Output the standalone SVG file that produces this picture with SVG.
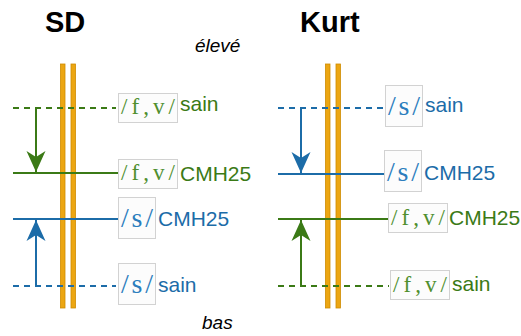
<svg xmlns="http://www.w3.org/2000/svg" width="521" height="336" viewBox="0 0 521 336">
<style>
.title{font-family:"Liberation Sans",Arial,sans-serif;font-weight:bold;font-size:29px;fill:#000}
.it{font-family:"Liberation Sans",Arial,sans-serif;font-style:italic;font-size:19px;fill:#000}
.lab{font-family:"Liberation Sans",Arial,sans-serif;font-size:21px}
.ph{font-family:"Liberation Serif","Times New Roman",serif}
.g{fill:#3b7a16}
.b{fill:#1c6ca8}
.pg{fill:#4f8f2e}
.pb{fill:#2b7dbd}
.box{fill:#fcfcfc;stroke:#d2d2d2;stroke-width:1}
.bar{fill:#eca612;stroke:#cf8c00;stroke-width:0.8}
.lg{stroke:#3b7a16;stroke-width:2;fill:none}
.lb{stroke:#1c6ca8;stroke-width:2;fill:none}
.dash{stroke-dasharray:6,5}
</style>
<defs>
<marker id="ahb" viewBox="-22 -11 22 22" markerWidth="22" markerHeight="22" refX="0" refY="0" orient="auto" markerUnits="userSpaceOnUse">
<path d="M0,0 L-21,-9.5 L-15,0 L-21,9.5 Z" fill="#1c6ca8"/>
</marker>
<marker id="ahg" viewBox="-22 -11 22 22" markerWidth="22" markerHeight="22" refX="0" refY="0" orient="auto" markerUnits="userSpaceOnUse">
<path d="M0,0 L-21,-9.5 L-15,0 L-21,9.5 Z" fill="#3b7a16"/>
</marker>
</defs>

<g id="titles">
<text class="title" x="45" y="32">SD</text>
<text class="title" x="300" y="32">Kurt</text>
<text class="it" x="195" y="52">élevé</text>
<text class="it" x="202" y="329">bas</text>
</g>

<g id="bars-left">
<rect class="bar" x="60.5" y="64" width="4.5" height="244"/>
<rect class="bar" x="71" y="64" width="4.5" height="244"/>
</g>
<g id="bars-right">
<rect class="bar" x="325.5" y="64" width="4.5" height="244"/>
<rect class="bar" x="336" y="64" width="4.5" height="244"/>
</g>

<g id="left-fv-sain">
<line class="lg dash" x1="13" y1="108" x2="116" y2="108"/>
<rect class="box" x="118.5" y="93.5" width="59" height="29"/>
<text class="ph pg" x="121" y="114" font-size="23" textLength="54" lengthAdjust="spacing">/f,v/</text>
<text class="lab g" x="180" y="111">sain</text>
</g>
<g id="left-fv-cmh25">
<line class="lg" x1="13" y1="173" x2="118" y2="173"/>
<rect class="box" x="118.5" y="159.5" width="59" height="29"/>
<text class="ph pg" x="121" y="180" font-size="23" textLength="54" lengthAdjust="spacing">/f,v/</text>
<text class="lab g" x="180" y="181">CMH25</text>
</g>
<g id="left-s-cmh25">
<line class="lb" x1="13" y1="219" x2="118" y2="219"/>
<rect class="box" x="118.5" y="197.5" width="37" height="41"/>
<text class="ph pb" x="121" y="227" font-size="28" textLength="32" lengthAdjust="spacing">/s/</text>
<text class="lab b" x="158" y="226">CMH25</text>
</g>
<g id="left-s-sain">
<line class="lb dash" x1="13" y1="286" x2="116" y2="286"/>
<rect class="box" x="118.5" y="263.5" width="37" height="41"/>
<text class="ph pb" x="121" y="293" font-size="28" textLength="32" lengthAdjust="spacing">/s/</text>
<text class="lab b" x="158" y="292">sain</text>
</g>

<g id="right-s-sain">
<line class="lb dash" x1="278" y1="108" x2="384" y2="108"/>
<rect class="box" x="385.5" y="85.5" width="37" height="41"/>
<text class="ph pb" x="388" y="115" font-size="28" textLength="32" lengthAdjust="spacing">/s/</text>
<text class="lab b" x="425" y="112">sain</text>
</g>
<g id="right-s-cmh25">
<line class="lb" x1="278" y1="174" x2="384" y2="174"/>
<rect class="box" x="384.5" y="150.5" width="37" height="41"/>
<text class="ph pb" x="387" y="181" font-size="28" textLength="32" lengthAdjust="spacing">/s/</text>
<text class="lab b" x="424" y="180">CMH25</text>
</g>
<g id="right-fv-cmh25">
<line class="lg" x1="278" y1="219" x2="388" y2="219"/>
<rect class="box" x="388.5" y="203.5" width="59" height="29"/>
<text class="ph pg" x="391" y="225" font-size="23" textLength="54" lengthAdjust="spacing">/f,v/</text>
<text class="lab g" x="449" y="225">CMH25</text>
</g>
<g id="right-fv-sain">
<line class="lg dash" x1="278" y1="286" x2="389" y2="286"/>
<rect class="box" x="390.5" y="270.5" width="59" height="29"/>
<text class="ph pg" x="393" y="292" font-size="23" textLength="54" lengthAdjust="spacing">/f,v/</text>
<text class="lab g" x="452" y="291">sain</text>
</g>

<g id="connectors">
<line class="lg" x1="36" y1="108" x2="36" y2="172" marker-end="url(#ahg)"/>
<line class="lb" x1="36" y1="286" x2="36" y2="220" marker-end="url(#ahb)"/>
<line class="lb" x1="301" y1="108" x2="301" y2="173" marker-end="url(#ahb)"/>
<line class="lg" x1="301" y1="286" x2="301" y2="220" marker-end="url(#ahg)"/>
</g>
</svg>
